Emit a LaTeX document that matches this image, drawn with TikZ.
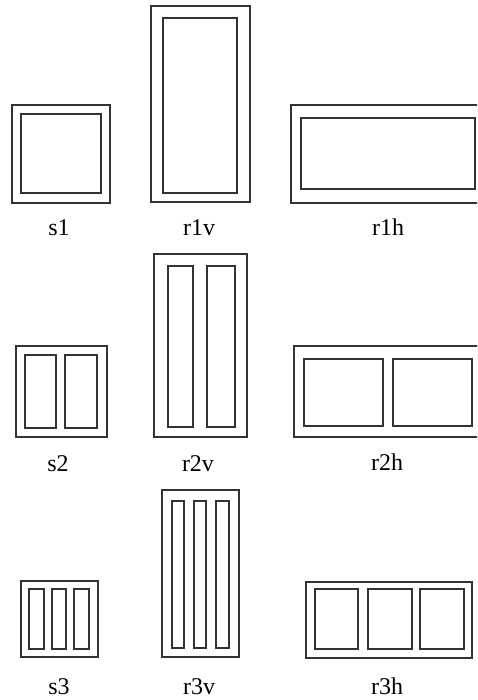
\documentclass[tikz,border=0pt]{standalone}
\usepackage{fontspec}
\setmainfont{Liberation Serif}
\begin{document}
\begin{tikzpicture}[x=1pt,y=-1pt,
  box/.style={draw=black!80, line width=1.8pt},
  lbl/.style={font=\fontsize{24}{24}\selectfont, anchor=base, inner sep=0pt}]
\useasboundingbox (0,0) rectangle (477,700);
\clip (0,0) rectangle (477,700);
% row 1
\draw[box] (12,105) rectangle (110,203);
\draw[box] (21,114) rectangle (101,193);
\draw[box] (151,6) rectangle (250,202);
\draw[box] (163,18) rectangle (237,193);
\draw[box] (291,105) rectangle (486,203);
\draw[box] (301,118) rectangle (475,189);
\node[lbl] (s1) at (59,236) {s1};
\node[lbl] (r1v) at (199,236) {r1v};
\node[lbl] (r1h) at (388,236) {r1h};
% row 2
\draw[box] (16,346) rectangle (107,437);
\draw[box] (25,355) rectangle (56,428);
\draw[box] (65,355) rectangle (97,428);
\draw[box] (154,254) rectangle (247,437);
\draw[box] (168,266) rectangle (193,427);
\draw[box] (207,266) rectangle (235,427);
\draw[box] (294,346) rectangle (484,437);
\draw[box] (304,359) rectangle (383,426);
\draw[box] (393,359) rectangle (472,426);
\node[lbl] (s2) at (58,471) {s2};
\node[lbl] (r2v) at (198,471) {r2v};
\node[lbl] (r2h) at (387,470) {r2h};
% row 3
\draw[box] (21,581) rectangle (98,657);
\draw[box] (29,589) rectangle (44,649);
\draw[box] (52,589) rectangle (66,649);
\draw[box] (74,589) rectangle (89,649);
\draw[box] (162,490) rectangle (239,657);
\draw[box] (172,501) rectangle (184,648);
\draw[box] (194,501) rectangle (206,648);
\draw[box] (216,501) rectangle (229,648);
\draw[box] (306,582) rectangle (472,658);
\draw[box] (315,589) rectangle (358,649);
\draw[box] (368,589) rectangle (412,649);
\draw[box] (420,589) rectangle (464,649);
\node[lbl] (s3) at (59,694) {s3};
\node[lbl] (r3v) at (199,694) {r3v};
\node[lbl] (r3h) at (387,694) {r3h};
\end{tikzpicture}
\end{document}
